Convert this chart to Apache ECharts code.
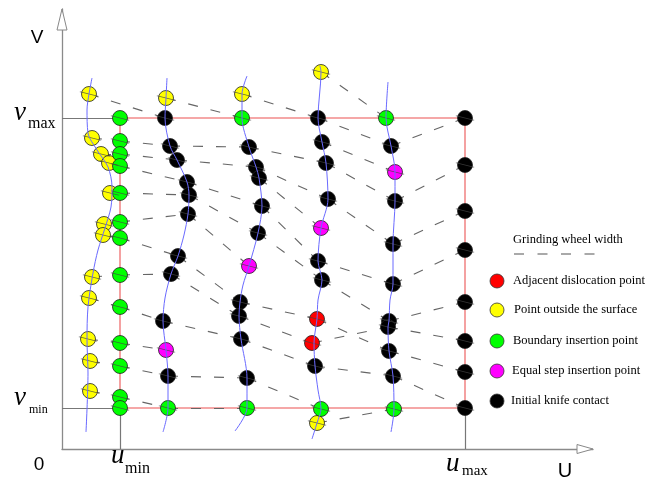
<!DOCTYPE html>
<html><head><meta charset="utf-8">
<script src="https://cdn.jsdelivr.net/npm/echarts@6/dist/echarts.min.js"></script>
<style>html,body{margin:0;padding:0;background:#fff}#c{width:656px;height:482px}</style>
</head><body><div id="c"></div>
<script>
// ---- parameter-plane coordinates (u right, v up) ----
const uMin = 58, uMax = 403, vMin = 41, vMax = 331;
const uEnd = 531, vEnd = 440;

// Points outside the surface (yellow)
const outsideLeft = [[27,355],[30,311],[39,295],[47,286],[48,256],[42,225],[41,214],[30,172],[27,151],[26,110],[28,88],[28,58]];
const outsideOther = [[104,351],[180,355],[259,377],[255,26]];
// Boundary insertion points (green)
const boundaryUmin = [[58,331],[58,308],[58,295],[58,283],[58,256],[58,227],[58,211],[58,174],[58,142],[58,106],[58,83],[58,52],[58,41]];
const boundaryOther = [[106,41],[180,331],[185,41],[259,40],[324,331],[332,40]];
// Equal step insertion points (magenta)
const equalStep = [[104,99],[187,183],[259,221],[333,277]];
// Adjacent dislocation points (red)
const dislocation = [[255,130],[250,106]];
// Initial knife contact points (black)
const knifeCol2 = [[103,331],[108,303],[115,289],[125,267],[127,254],[126,235],[116,193],[109,175],[101,128],[106,73]];
const knifeCol3 = [[187,302],[194,282],[197,271],[200,243],[196,216],[178,147],[177,133],[179,110],[185,71]];
const knifeCol4 = [[256,331],[260,307],[264,286],[266,250],[256,188],[260,169],[253,83]];
const knifeCol5 = [[329,303],[333,248],[331,205],[331,165],[327,128],[326,122],[327,98],[331,73]];
const knifeUmax = [[403,331],[403,284],[403,238],[403,199],[403,147],[403,108],[403,77],[403,41]];

// Tool-path curves (blue)
const curve0 = [[30,371],[27,355],[25,339],[26,316],[35,299],[46,282],[50,262],[49,242],[43,221],[36,199],[31,176],[26,142],[25,109],[26,76],[24,17]];
const curve2 = [[105,371],[104,351],[103,331],[108,303],[115,289],[125,267],[127,254],[126,235],[122,214],[116,193],[109,175],[103,151],[101,128],[104,99],[106,73],[106,41],[101,17]];
const curve3 = [[185,373],[180,355],[180,331],[187,302],[194,282],[197,271],[200,243],[196,216],[187,183],[181,164],[178,147],[177,133],[179,110],[185,71],[185,41],[173,18]];
const curve4 = [[258,383],[259,377],[256,331],[260,307],[264,286],[266,250],[259,221],[256,188],[260,169],[256,149],[255,130],[252,106],[253,83],[256,59],[259,40],[255,26],[250,10]];
const curve5 = [[326,367],[324,331],[329,303],[333,277],[333,248],[331,205],[331,165],[328,149],[327,128],[326,122],[327,98],[331,73],[332,40],[329,17]];

// Grinding wheel width links (dashed)
const wheelLinks = [
  [[27,355],[103,331]],[[30,311],[58,308]],[[39,295],[58,295]],[[47,286],[58,283]],[[48,256],[58,256]],[[42,225],[58,227]],[[41,214],[58,211]],[[30,172],[58,174]],[[27,151],[58,142]],[[26,110],[58,106]],[[28,88],[58,83]],[[28,58],[58,52]],
  [[58,308],[108,303]],[[58,295],[115,289]],[[58,283],[125,267]],[[58,256],[127,254]],[[58,227],[126,235]],[[58,211],[116,193]],[[58,174],[109,175]],[[58,142],[101,128]],[[58,106],[104,99]],[[58,83],[106,73]],[[58,52],[106,41]],
  [[104,351],[180,331]],[[108,303],[187,302]],[[115,289],[194,282]],[[125,267],[200,243]],[[127,254],[196,216]],[[126,235],[187,183]],[[116,193],[178,147]],[[109,175],[177,133]],[[101,128],[179,110]],[[106,73],[185,71]],[[106,41],[185,41]],
  [[180,355],[256,331]],[[187,302],[264,286]],[[194,282],[266,250]],[[197,271],[259,221]],[[200,243],[256,188]],[[196,216],[260,169]],[[178,147],[255,130]],[[177,133],[250,106]],[[179,110],[253,83]],[[185,71],[259,40]],
  [[259,377],[324,331]],[[256,331],[329,303]],[[260,307],[333,277]],[[264,286],[333,248]],[[266,250],[331,205]],[[256,188],[331,165]],[[260,169],[327,128]],[[255,130],[327,98]],[[250,106],[326,122]],[[253,83],[331,73]],[[255,26],[332,40]],
  [[329,303],[403,331]],[[333,248],[403,284]],[[331,205],[403,238]],[[331,165],[403,199]],[[327,128],[403,147]],[[326,122],[403,108]],[[327,98],[403,77]],[[331,73],[403,41]]
];

const legendNames = ['Adjacent dislocation point','Point outside the surface','Boundary insertion point','Equal step insertion point','Initial knife contact'];
const legendColors = ['#ff0000','#ffff00','#00ff00','#ff00ff','#000000'];

const chart = echarts.init(document.getElementById('c'));

const yellowPts = outsideLeft.concat(outsideOther);
const greenPts = boundaryUmin.concat(boundaryOther);
const blackPts = knifeCol2.concat(knifeCol3, knifeCol4, knifeCol5, knifeUmax);
const allPts = yellowPts.concat(greenPts, blackPts, equalStep, dislocation);

const redRect = [
  [[uMin,vMax],[uMax,vMax]],[[uMax,vMax],[uMax,vMin]],[[uMax,vMin],[uMin,vMin]],[[uMin,vMin],[uMin,vMax]]
];
const grayGuides = [
  [[0,vMax],[uMin,vMax]],[[0,vMin],[uMin,vMin]],[[uMin,vMin],[uMin,0]],[[uMax,vMin],[uMax,0]]
];

function scatter(name, data, color) {
  return {type:'scatter', name, data, symbolSize:15, z:4, silent:true,
    itemStyle:{color, borderColor:'#222', borderWidth:0.8, opacity:1}};
}
function curve(data) {
  return {type:'line', data, smooth:0.3, showSymbol:false, z:6, silent:true,
    lineStyle:{color:'#6a6aff', width:1}};
}

const option = {
  animation:false,
  backgroundColor:'#fff',
  grid:{left:62, right:63, top:9, bottom:33, containLabel:false, outerBoundsMode:'none'},
  xAxis:{type:'value', min:0, max:uEnd, axisLine:{show:true, onZero:false, lineStyle:{color:'#8a8a8a', width:1.3}},
    axisTick:{show:false}, axisLabel:{show:false}, splitLine:{show:false}},
  yAxis:{type:'value', min:0, max:vEnd, axisLine:{show:true, onZero:false, lineStyle:{color:'#8a8a8a', width:1.3}},
    axisTick:{show:false}, axisLabel:{show:false}, splitLine:{show:false}},
  series:[
    {type:'lines', coordinateSystem:'cartesian2d', z:1, silent:true,
      data:grayGuides.map(c=>({coords:c})), lineStyle:{color:'#777', width:1.2, opacity:1}},
    {type:'lines', coordinateSystem:'cartesian2d', z:2, silent:true,
      data:redRect.map(c=>({coords:c})), lineStyle:{color:'#f28a8a', width:1.6, opacity:1}},
    {type:'lines', coordinateSystem:'cartesian2d', z:3, silent:true,
      data:wheelLinks.map(c=>({coords:c})), lineStyle:{color:'#666', width:1.1, opacity:1, type:[10,13]}},
    scatter('Point outside the surface', yellowPts, '#ffff00'),
    scatter('Boundary insertion point', greenPts, '#00ff00'),
    scatter('Initial knife contact', blackPts, '#000000'),
    scatter('Equal step insertion point', equalStep, '#ff00ff'),
    scatter('Adjacent dislocation point', dislocation, '#ff0000'),
    {type:'scatter', data:allPts, symbol:'path://M0,0L20,5', symbolSize:[18,4.5], z:5, silent:true,
      itemStyle:{color:'none', borderColor:'#444', borderWidth:0.8}},
    curve(curve0), curve(curve2), curve(curve3), curve(curve4), curve(curve5)
  ]
};
chart.setOption(option);

const tip = chart.convertToPixel({gridIndex:0}, [0, vEnd]);
const rt = chart.convertToPixel({gridIndex:0}, [uEnd, 0]);
const serif = '"Liberation Serif","Times New Roman",serif';
const sans = '"Liberation Sans",Arial,sans-serif';
function txt(x, y, text, font, align) {
  return {type:'text', x, y, z:100, style:{text, font, fill:'#000', textAlign:align||'left', textVerticalAlign:'middle', align:align||'left', verticalAlign:'middle'}};
}
const g = [
  {type:'polygon', z:100, shape:{points:[[tip[0],tip[1]],[tip[0]-5,tip[1]+21],[tip[0]+5,tip[1]+21]]}, style:{fill:'#fff', stroke:'#888', lineWidth:1}},
  {type:'polygon', z:100, shape:{points:[[rt[0],rt[1]],[rt[0]-16,rt[1]-4.5],[rt[0]-16,rt[1]+4.5]]}, style:{fill:'#fff', stroke:'#888', lineWidth:1}},
  txt(37, 38, 'V', '19px ' + sans, 'center'),
  txt(39, 465, '0', '19px ' + sans, 'center'),
  txt(565, 471, 'U', '20px ' + sans, 'center'),
  txt(14, 113, 'v', 'italic 27px ' + serif),
  txt(28, 124, 'max', '16px ' + serif),
  txt(14, 398, 'v', 'italic 27px ' + serif),
  txt(29, 410, 'min', '12px ' + serif),
  txt(111, 456, 'u', 'italic 27px ' + serif),
  txt(125, 469, 'min', '16px ' + serif),
  txt(446, 464, 'u', 'italic 27px ' + serif),
  txt(462, 471, 'max', '15px ' + serif),
  txt(513, 240, 'Grinding wheel width', '12.5px ' + serif),
  {type:'line', z:100, shape:{x1:514, y1:254, x2:595, y2:254}, style:{stroke:'#555', lineWidth:1.2, lineDash:[10,13.5]}}
];
const legY = [281, 310, 341, 371, 401];
const legX = [513, 514, 513, 512, 511];
legendNames.forEach((n, i) => {
  g.push({type:'circle', z:100, shape:{cx:497, cy:legY[i], r:7}, style:{fill:legendColors[i], stroke:'#333', lineWidth:0.8}});
  g.push(txt(legX[i], legY[i], n, '12.5px ' + serif));
});
chart.setOption({graphic:g});
</script></body></html>
